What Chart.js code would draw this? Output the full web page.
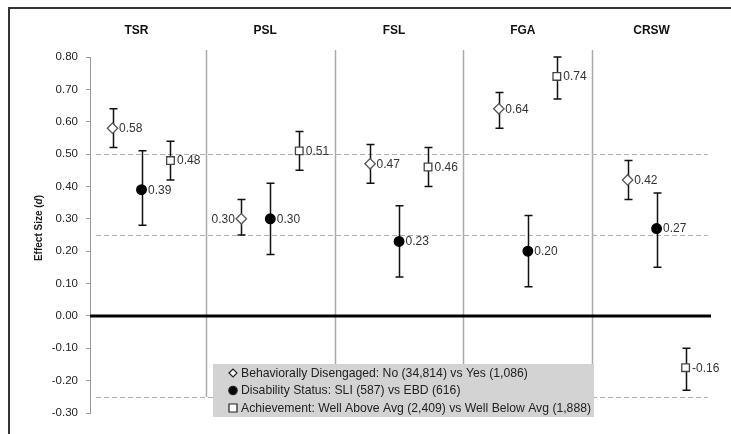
<!DOCTYPE html>
<html>
<head>
<meta charset="utf-8">
<script src="https://cdn.jsdelivr.net/npm/chart.js@4/dist/chart.umd.min.js"></script>
<style>
  html, body { margin: 0; padding: 0; background: #ffffff; }
  #wrap { width: 731px; height: 434px; }
</style>
</head>
<body>
<div id="wrap"><canvas id="chart" width="731" height="434"></canvas></div>
<script>
// Outcome measures (one panel each)
const categories = ['TSR', 'PSL', 'FSL', 'FGA', 'CRSW'];

// Behaviorally disengaged: No vs Yes
const disengaged     = [0.58, 0.30, 0.47, 0.64, 0.42];
const disengagedLow  = [0.52, 0.25, 0.41, 0.58, 0.36];
const disengagedHigh = [0.64, 0.36, 0.53, 0.69, 0.48];

// Disability status: SLI vs EBD
const disability     = [0.39, 0.30, 0.23, 0.20, 0.27];
const disabilityLow  = [0.28, 0.19, 0.12, 0.09, 0.15];
const disabilityHigh = [0.51, 0.41, 0.34, 0.31, 0.38];

// Achievement: well above vs well below average
const achievement     = [0.48, 0.51, 0.46, 0.74, -0.16];
const achievementLow  = [0.42, 0.45, 0.40, 0.67, -0.23];
const achievementHigh = [0.54, 0.57, 0.52, 0.80, -0.10];

const seriesNames = [
  'Behaviorally Disengaged: No (34,814) vs Yes (1,086)',
  'Disability Status: SLI (587) vs EBD (616)',
  'Achievement: Well Above Avg (2,409) vs Well Below Avg (1,888)'
];

// Benchmark effect sizes (dashed) and the zero line
const benchmarks = [0.50, 0.25, -0.25];
const yTicks = { min: -0.30, max: 0.80, step: 0.10 };

const FONT = '"Liberation Sans", Arial, Helvetica, sans-serif';
const SHIFT = 0.225; // horizontal offset of the side markers within a panel

function points(values, offset) {
  return values.map((v, i) => ({ x: i + offset, y: v }));
}

const series = [
  { name: seriesNames[0], values: disengaged, low: disengagedLow, high: disengagedHigh, offset: -SHIFT,
    style: 'rectRot', radius: 5.2, bg: '#ffffff', border: '#555555', labelSide: [1, -1, 1, 1, 1] },
  { name: seriesNames[1], values: disability, low: disabilityLow, high: disabilityHigh, offset: 0,
    style: 'circle', radius: 4.8, bg: '#000000', border: '#000000', labelSide: [1, 1, 1, 1, 1] },
  { name: seriesNames[2], values: achievement, low: achievementLow, high: achievementHigh, offset: SHIFT,
    style: 'rect', radius: 5.4, bg: '#ffffff', border: '#444444', labelSide: [1, 1, 1, 1, 1] }
];

// Frame, panel dividers, reference lines, error bars, panel headers, axis title
const backdrop = {
  id: 'backdrop',
  beforeDatasetsDraw(chart) {
    const { ctx, chartArea: a, scales: { x, y } } = chart;
    ctx.save();

    // outer frame (top and left edges)
    ctx.strokeStyle = '#333333';
    ctx.lineWidth = 2;
    ctx.beginPath();
    ctx.moveTo(9, 434); ctx.lineTo(9, 8); ctx.lineTo(731, 8);
    ctx.stroke();

    // panel dividers
    ctx.strokeStyle = '#aaaaaa';
    ctx.lineWidth = 1.5;
    for (let i = 0; i < categories.length - 1; i++) {
      const px = Math.round(x.getPixelForValue(i + 0.5)) + 0.5;
      ctx.beginPath();
      ctx.moveTo(px, 50);
      ctx.lineTo(px, 397);
      ctx.stroke();
    }

    // benchmark lines
    ctx.strokeStyle = '#b0b0b0';
    ctx.lineWidth = 1;
    ctx.setLineDash([5, 3]);
    benchmarks.forEach(b => {
      const py = Math.round(y.getPixelForValue(b)) + 0.5;
      ctx.beginPath();
      ctx.moveTo(a.left + 6, py);
      ctx.lineTo(a.right - 13, py);
      ctx.stroke();
    });
    ctx.setLineDash([]);

    // zero line
    const y0 = y.getPixelForValue(0);
    ctx.strokeStyle = '#000000';
    ctx.lineWidth = 3;
    ctx.beginPath();
    ctx.moveTo(a.left, y0);
    ctx.lineTo(a.right - 10, y0);
    ctx.stroke();

    // confidence intervals
    ctx.strokeStyle = '#111111';
    ctx.lineWidth = 1.5;
    series.forEach(s => {
      s.values.forEach((v, i) => {
        const px = Math.round(x.getPixelForValue(i + s.offset)) + 0.5;
        const pt = y.getPixelForValue(s.high[i]);
        const pb = y.getPixelForValue(s.low[i]);
        ctx.beginPath();
        ctx.moveTo(px, pt); ctx.lineTo(px, pb);
        ctx.moveTo(px - 4, pt); ctx.lineTo(px + 4, pt);
        ctx.moveTo(px - 4, pb); ctx.lineTo(px + 4, pb);
        ctx.stroke();
      });
    });

    // panel headers
    ctx.fillStyle = '#111111';
    ctx.font = 'bold 12px ' + FONT;
    ctx.textAlign = 'center';
    ctx.textBaseline = 'middle';
    categories.forEach((c, i) => {
      ctx.fillText(c, x.getPixelForValue(i) - 5, 31);
    });

    // y axis title: Effect Size (d), with d in italics
    ctx.translate(39, 228);
    ctx.rotate(-Math.PI / 2);
    ctx.fillStyle = '#1a1a1a';
    const parts = [
      { t: 'Effect Size (', f: 'bold 10px ' + FONT },
      { t: 'd', f: 'italic bold 10px ' + FONT },
      { t: ')', f: 'bold 10px ' + FONT }
    ];
    let total = 0;
    parts.forEach(p => { ctx.font = p.f; p.w = ctx.measureText(p.t).width; total += p.w; });
    let cx = -total / 2;
    ctx.textAlign = 'left';
    parts.forEach(p => { ctx.font = p.f; ctx.fillText(p.t, cx, 0); cx += p.w; });
    ctx.restore();
  }
};

// Value labels next to each marker, then the legend box
const overlay = {
  id: 'overlay',
  afterDatasetsDraw(chart) {
    const { ctx, scales: { x, y } } = chart;
    ctx.save();
    ctx.font = '12px ' + FONT;
    ctx.fillStyle = '#333333';
    ctx.textBaseline = 'middle';
    series.forEach(s => {
      s.values.forEach((v, i) => {
        const px = x.getPixelForValue(i + s.offset);
        const py = y.getPixelForValue(v);
        const side = s.labelSide[i];
        ctx.textAlign = side > 0 ? 'left' : 'right';
        ctx.fillText(v.toFixed(2), px + side * 6.5, py + 0.5);
      });
    });

    // legend
    ctx.fillStyle = '#d3d3d3';
    ctx.fillRect(213, 364, 381, 53);
    const rows = [373, 390.5, 408];
    ctx.font = '12.2px ' + FONT;
    ctx.textAlign = 'left';
    series.forEach((s, k) => {
      const ly = rows[k];
      const lx = 233;
      ctx.lineWidth = 1.2;
      ctx.strokeStyle = '#222222';
      ctx.fillStyle = s.bg;
      ctx.beginPath();
      if (s.style === 'rectRot') {
        ctx.moveTo(lx - 4, ly); ctx.lineTo(lx, ly - 4); ctx.lineTo(lx + 4, ly); ctx.lineTo(lx, ly + 4); ctx.closePath();
      } else if (s.style === 'circle') {
        ctx.arc(lx, ly, 4.2, 0, Math.PI * 2);
      } else {
        ctx.rect(lx - 4, ly - 4, 8, 8);
      }
      ctx.fill();
      ctx.stroke();
      ctx.fillStyle = '#222222';
      ctx.fillText(s.name, 241, ly + 0.5);
    });
    ctx.restore();
  }
};

new Chart(document.getElementById('chart'), {
  type: 'scatter',
  data: {
    datasets: series.map(s => ({
      label: s.name,
      data: points(s.values, s.offset),
      pointStyle: s.style,
      pointRadius: s.radius,
      pointHoverRadius: s.radius,
      pointBackgroundColor: s.bg,
      pointBorderColor: s.border,
      pointBorderWidth: 1.3,
      showLine: false
    }))
  },
  options: {
    responsive: false,
    animation: false,
    devicePixelRatio: 1,
    layout: { padding: { left: 8, top: 57, right: 10, bottom: 21 } },
    plugins: {
      legend: { display: false },
      tooltip: { enabled: false }
    },
    scales: {
      x: {
        type: 'linear',
        min: -0.4,
        max: 4.5,
        display: false
      },
      y: {
        min: yTicks.min,
        max: yTicks.max,
        afterFit(scale) { scale.width = 82; },
        ticks: {
          stepSize: yTicks.step,
          padding: 8,
          color: '#222222',
          font: { family: FONT, size: 11.5 },
          callback: v => Number(v).toFixed(2)
        },
        grid: {
          drawOnChartArea: false,
          drawTicks: true,
          tickLength: 4,
          color: '#999999'
        },
        border: { display: true, color: '#999999', width: 1 }
      }
    }
  },
  plugins: [backdrop, overlay]
});
</script>
</body>
</html>
